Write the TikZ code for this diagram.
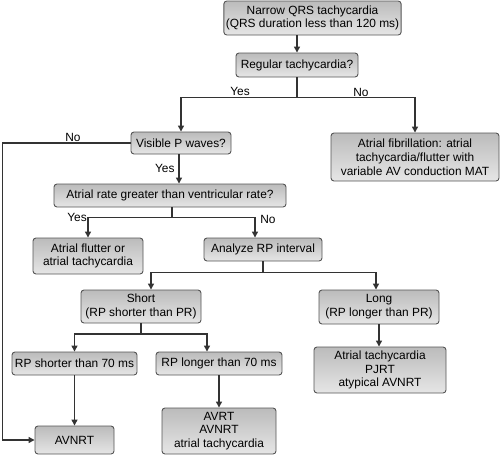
\documentclass[tikz,border=0pt]{standalone}
\usepackage{fontspec}
\setmainfont{Liberation Sans}
\usetikzlibrary{arrows.meta, positioning, calc}
\definecolor{cline}{HTML}{333333}
\definecolor{cedge}{HTML}{555555}
\definecolor{ctop}{HTML}{BBBBBB}
\definecolor{cbot}{HTML}{E6E6E6}
\tikzset{
  every picture/.style={font=\fontsize{11.9}{13.8}\selectfont, line width=1pt},
  box/.style={draw=cedge, top color=ctop, bottom color=cbot, rounded corners=3pt, align=center, inner sep=2pt, line width=0.9pt},
  arrow/.style={-{Triangle[length=6pt, width=6pt]}, draw=cline, line width=1.3pt},
  note/.style={font=\fontsize{11.9}{13.8}\selectfont, text=black, inner sep=1pt},
}

\begin{document}
\begin{tikzpicture}[x=1pt, y=-1pt]
  \useasboundingbox (0,0) rectangle (500,455);
  % boxes, centred on pixel positions of the chart
  \node[box, minimum width=169pt, minimum height=34pt] (qrs) at (312.5,18) {Narrow QRS tachycardia\\(QRS duration less than 120 ms)};
  \node[box, minimum width=122pt, minimum height=24pt] (reg) at (297,65) {Regular tachycardia?};
  \node[box, minimum width=100pt, minimum height=22pt] (pwave) at (181,143) {Visible P waves?};
  \node[box, minimum width=168pt, minimum height=48pt] (afib) at (415,157) {Atrial fibrillation: atrial\\tachycardia/flutter with\\variable AV conduction MAT};
  \node[box, minimum width=232pt, minimum height=23pt] (rate) at (170,195.5) {Atrial rate greater than ventricular rate?};
  \node[box, minimum width=110pt, minimum height=36pt] (flut) at (88,256) {Atrial flutter or\\atrial tachycardia};
  \node[box, minimum width=118pt, minimum height=23pt] (rp) at (263,249.5) {Analyze RP interval};
  \node[box, minimum width=120pt, minimum height=33pt] (short) at (141,306.5) {Short\\(RP shorter than PR)};
  \node[box, minimum width=120pt, minimum height=34pt] (long) at (379,307) {Long\\(RP longer than PR)};
  \node[box, minimum width=125pt, minimum height=23pt] (rpshort) at (74.5,363.5) {RP shorter than 70 ms};
  \node[box, minimum width=126pt, minimum height=23pt] (rplong) at (219,363.5) {RP longer than 70 ms};
  \node[box, minimum width=132pt, minimum height=46pt] (atach) at (380,370) {Atrial tachycardia\\PJRT\\atypical AVNRT};
  \node[box, minimum width=79pt, minimum height=28pt] (avnrt) at (74.5,440) {AVNRT};
  \node[box, minimum width=114pt, minimum height=46pt] (avrt) at (219,431) {AVRT\\AVNRT\\atrial tachycardia};

  % connectors
  \draw[arrow] (qrs.south -| reg.north) -- (reg.north);
  \draw[arrow] (reg.south) -- ++(0,20) -| (pwave.north);
  \draw[arrow] (reg.south) -- ++(0,20) -| (afib.north);
  \draw[arrow] ([xshift=-2pt]pwave.south) -- ([xshift=-2pt]pwave.south |- rate.north);
  \draw[arrow] (pwave.west) -- ++(-128,0) |- (avnrt.west);
  \draw[arrow] ([xshift=2pt]rate.south) -- ++(0,10) -| (flut.north);
  \draw[arrow] ([xshift=2pt]rate.south) -- ++(0,10) -| ([xshift=-8pt]rp.north);
  \draw[arrow] (rp.south) -- ++(0,11) -| ([xshift=10pt]short.north);
  \draw[arrow] (rp.south) -- ++(0,11) -| ([xshift=-3pt]long.north);
  \draw[arrow] (short.south) -- ++(0,10.5) -| (rpshort.north);
  \draw[arrow] (short.south) -- ++(0,10.5) -| ([xshift=-12pt]rplong.north);
  \draw[arrow] (long.south) -- (long.south |- atach.north);
  \draw[arrow] (rpshort.south) -- (rpshort.south |- avnrt.north);
  \draw[arrow] (rplong.south) -- (rplong.south |- avrt.north);

  % branch labels
  \node[note] (yes1) at (240,91) {Yes};
  \node[note] (no1) at (361,92) {No};
  \node[note] (no2) at (73,137) {No};
  \node[note, anchor=east] (yes2) at (176,168) {Yes};
  \node[note] (yes3) at (77,217) {Yes};
  \node[note] (no3) at (268,219) {No};
\end{tikzpicture}
\end{document}
